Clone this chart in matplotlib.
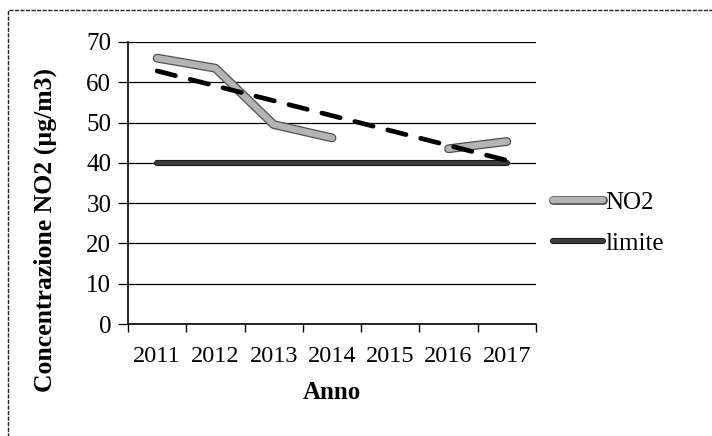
import numpy as np
import matplotlib
matplotlib.use("Agg")
import matplotlib.pyplot as plt
import matplotlib.patheffects as pe
from matplotlib.patches import Rectangle

# dati
anni = ['2011', '2012', '2013', '2014', '2015', '2016', '2017']
no2 = [66, 63.5, 49.5, 46.2, np.nan, 43.5, 45.3]
limite = [40, 40, 40, 40, 40, 40, 40]

plt.rcParams['font.family'] = ['Liberation Serif', 'DejaVu Serif']

fig = plt.figure(figsize=(7.12, 4.36), dpi=100)
ax = fig.add_axes([128 / 712, 1 - 324 / 436, 408 / 712, 282 / 436])

x = np.arange(len(anni))
no2_arr = np.array(no2, dtype=float)

# linea NO2 (grigia con bordo scuro)
ax.plot(x, no2_arr, color='#b4b4b4', lw=4.6, solid_capstyle='round',
        solid_joinstyle='round', label='NO2', zorder=3,
        path_effects=[pe.Stroke(linewidth=6.4, foreground='#505050'), pe.Normal()])

# linea limite
ax.plot(x, limite, color='#3c3c3c', lw=3.2, solid_capstyle='round',
        label='limite', zorder=3,
        path_effects=[pe.Stroke(linewidth=4.4, foreground='#111111'), pe.Normal()])

# linea di tendenza lineare su NO2
ok = ~np.isnan(no2_arr)
coef = np.polyfit(x[ok], no2_arr[ok], 1)
ax.plot(x, np.polyval(coef, x), color='black', lw=3.4, dashes=(4, 3.2),
        dash_capstyle='round', zorder=4)

ax.set_xlim(-0.5, len(anni) - 0.5)
ax.set_ylim(0, 70)
ax.set_yticks(range(0, 71, 10))
ax.yaxis.grid(True, color='black', lw=0.9)
ax.set_axisbelow(True)

ax.set_xticks(np.arange(-0.5, len(anni), 1))
ax.set_xticklabels([])
ax.set_xticks(x, minor=True)
ax.set_xticklabels(anni, minor=True, fontsize=17.5)
ax.tick_params(axis='x', which='major', length=6, width=1, direction='out')
ax.tick_params(axis='x', which='minor', length=0, pad=16)
ax.tick_params(axis='y', length=7, width=0.9, labelsize=18, pad=5)

for s in ['top', 'right']:
    ax.spines[s].set_visible(False)
ax.spines['left'].set_linewidth(1.2)
ax.spines['bottom'].set_linewidth(1.2)

ax.set_xlabel('Anno', fontsize=18, fontweight='bold', labelpad=10)
fig.text(45 / 712, 1 - 230 / 436, 'Concentrazione NO2 (µg/m3)', rotation=90,
         fontsize=18.5, fontweight='bold', ha='center', va='center')

ax.legend(loc='center left', bbox_to_anchor=(530 / 712, 1 - 223 / 436),
          bbox_transform=fig.transFigure, frameon=False, fontsize=18,
          handlelength=2.0, handletextpad=0.1, labelspacing=0.75)

# cornice esterna tratteggiata
fig.patches.append(Rectangle((8 / 712, -0.05), 1.1, 1 - 10 / 436 + 0.05,
                             transform=fig.transFigure, fill=False,
                             edgecolor='#222222', lw=1, ls=(0, (3, 1))))

fig.savefig('out.png', dpi=100)
